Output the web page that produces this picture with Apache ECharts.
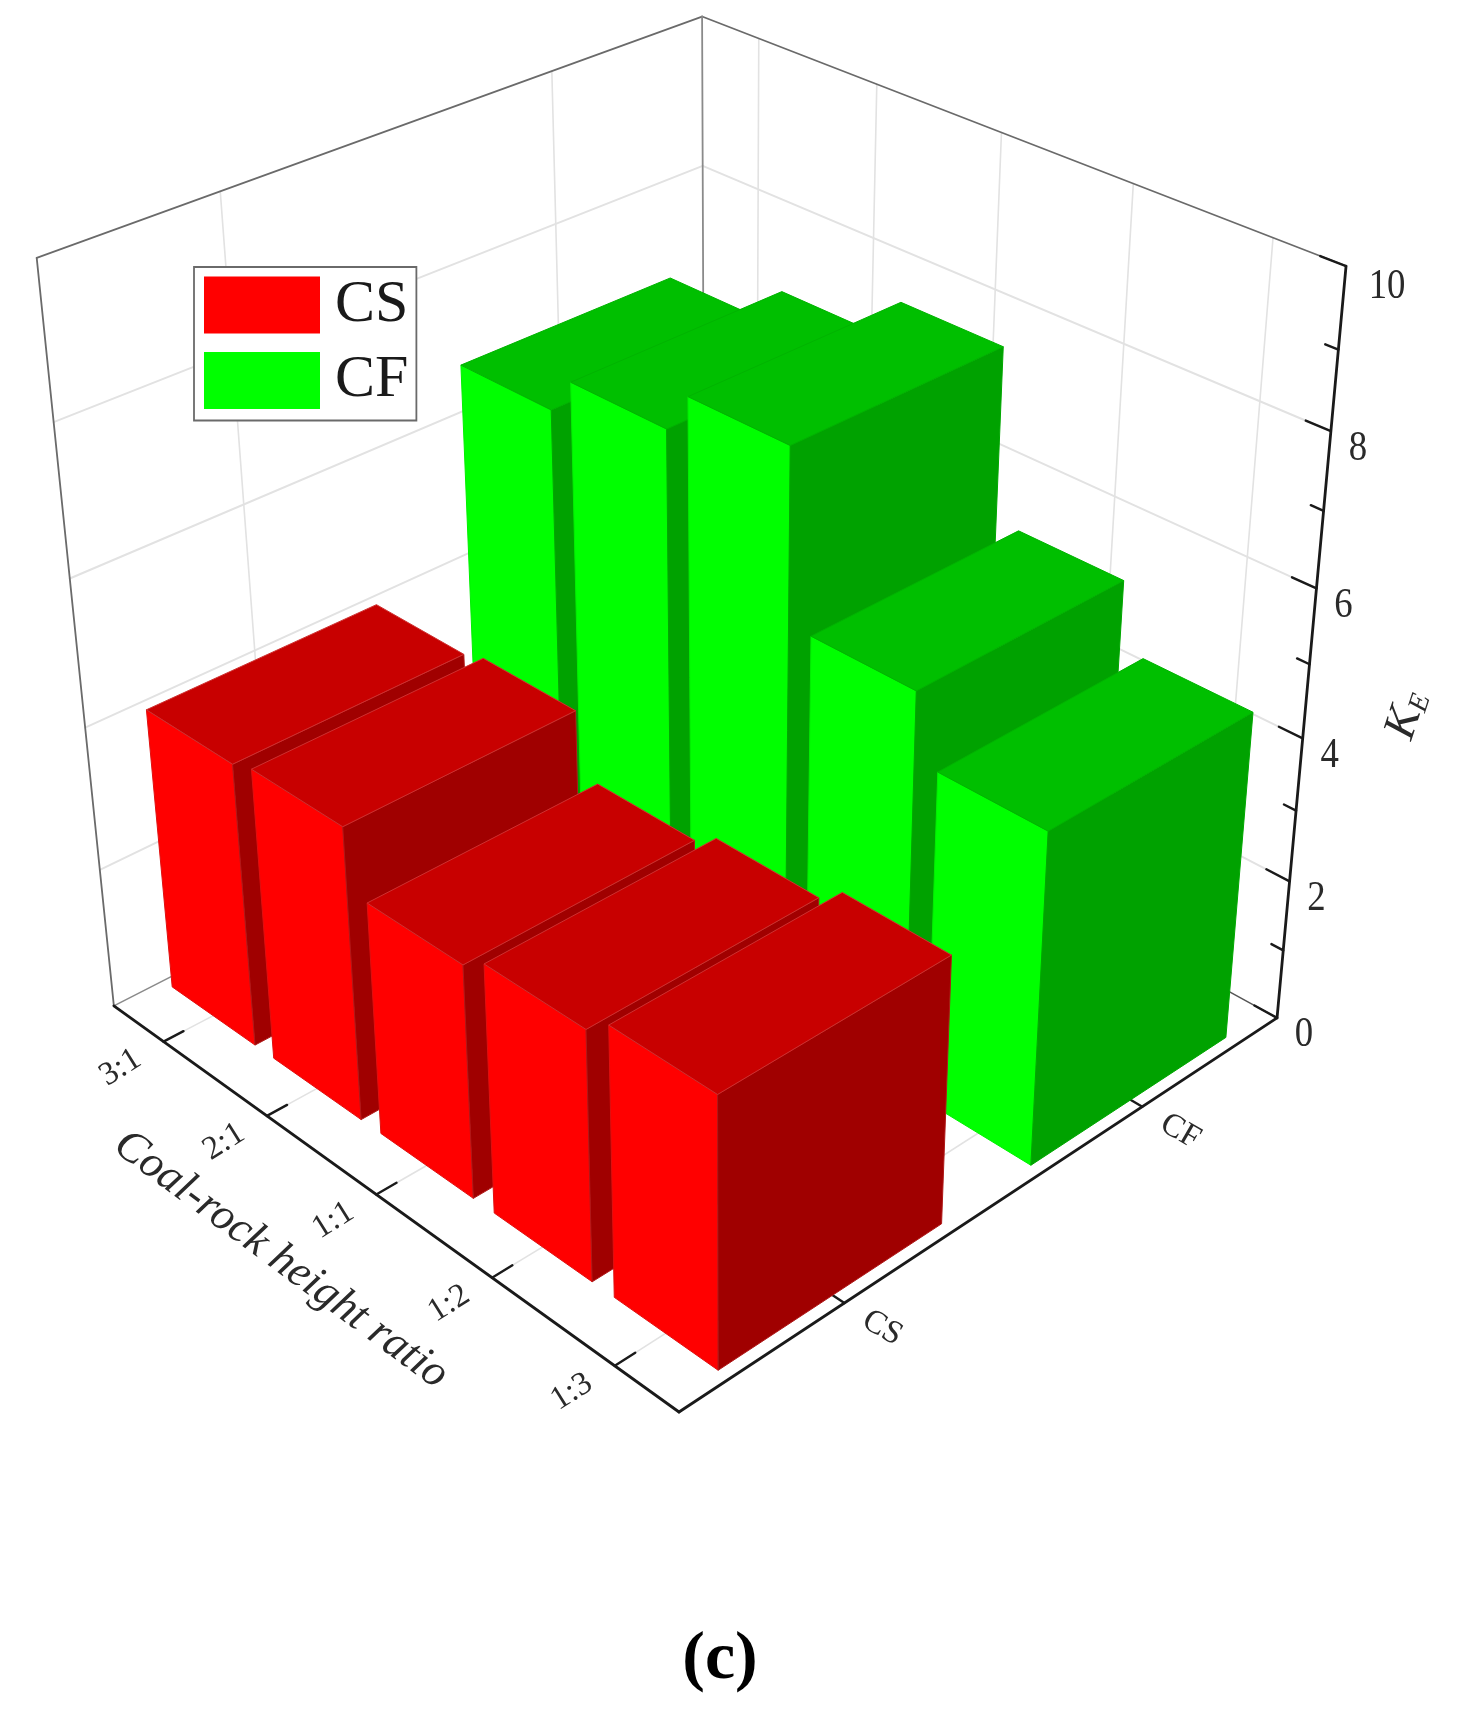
<!DOCTYPE html>
<html>
<head>
<meta charset="utf-8">
<style>html,body{margin:0;padding:0;background:#fff}#chart{width:1476px;height:1709px}</style>
<script src="https://cdn.jsdelivr.net/npm/echarts@6/dist/echarts.min.js"></script>
</head>
<body>
<div id="chart"></div>
<script>
// ---- data ----
const categories = ['3:1', '2:1', '1:1', '1:2', '1:3'];
const seriesNames = ['CS', 'CF'];
const csValues = [4.0, 4.1, 3.25, 3.45, 3.7];
const cfValues = [6.75, 7.25, 7.8, 5.5, 4.6];
const zTicks = [0, 2, 4, 6, 8, 10];
const zMax = 10;
const SERIF = '"Times New Roman", "Liberation Serif", serif';

// ---- perspective camera: vanishing points and front floor corner ----
const F0 = [679, 1412], VL = [-3563, -1636], VR = [5362, -1674], VZ = [730, 6979];
const LA = 0.1537, LV = 0.1464, LW = -0.1284;
// a: 0 at front corner → 1 at the left wall; v: 0 at front → 1 at right wall; w: 0..1 height
function project(a, v, w) {
  const h = 1 + a * LA + v * LV + w * LW;
  return [
    (F0[0] + a * LA * VL[0] + v * LV * VR[0] + w * LW * VZ[0]) / h,
    (F0[1] + a * LA * VL[1] + v * LV * VR[1] + w * LW * VZ[1]) / h
  ];
}
const catCount = categories.length, serCount = seriesNames.length;
const catCentre = i => 1 - (i + 0.5) / catCount;   // 3:1 at far left, 1:3 near the front
const serCentre = j => (j + 0.5) / serCount;
const barHalfA = 0.082, barHalfV = 0.175;

const palettes = {
  CS: { front: '#ff0000', top: '#c80000', side: '#a00000', edgeF: '#e01010', edgeT: '#cf3030', edgeS: '#b01818' },
  CF: { front: '#00ff00', top: '#00bf00', side: '#00a200', edgeF: '#00f000', edgeT: '#00b400', edgeS: '#00a800' }
};

function poly(api, pts, fill, stroke) {
  return {
    type: 'polygon',
    shape: { points: pts.map(p => api.coord(p)) },
    style: { fill: fill, stroke: stroke, lineWidth: 1, lineJoin: 'round' }
  };
}
function seg(api, p, q, color, width) {
  const a = api.coord(p), b = api.coord(q);
  return { type: 'line', shape: { x1: a[0], y1: a[1], x2: b[0], y2: b[1] }, style: { stroke: color, lineWidth: width, lineCap: 'round' } };
}
function label(api, anchor, text, font, rotationDeg, sx, sy) {
  const c = api.coord(anchor);
  return {
    type: 'text', x: c[0], y: c[1], rotation: rotationDeg * Math.PI / 180,
    scaleX: sx || 1, scaleY: sy || 1,
    style: { text: text, font: font, fill: '#2a2a2a', align: 'center', verticalAlign: 'middle' }
  };
}

function renderBar(serIndex) {
  const pal = palettes[seriesNames[serIndex]];
  return function (params, api) {
    const i = api.value(0), val = api.value(1);
    const w = val / zMax;
    const a0 = catCentre(i) - barHalfA, a1 = catCentre(i) + barHalfA;
    const v0 = serCentre(serIndex) - barHalfV, v1 = serCentre(serIndex) + barHalfV;
    const front = [project(a0, v0, 0), project(a1, v0, 0), project(a1, v0, w), project(a0, v0, w)];
    const side = [project(a0, v0, 0), project(a0, v1, 0), project(a0, v1, w), project(a0, v0, w)];
    const top = [project(a0, v0, w), project(a1, v0, w), project(a1, v1, w), project(a0, v1, w)];
    return {
      type: 'group',
      children: [
        poly(api, front, pal.front, pal.edgeF),
        poly(api, side, pal.side, pal.edgeS),
        poly(api, top, pal.top, pal.edgeT)
      ]
    };
  };
}

function renderFrame(params, api) {
  const out = [];
  const GRID = '#e2e2e2';
  // wall gridlines
  zTicks.forEach(t => {
    if (t === 0 || t === zMax) return;
    const w = t / zMax;
    out.push(seg(api, project(1, 0, w), project(1, 1, w), GRID, 2));
    out.push(seg(api, project(0, 1, w), project(1, 1, w), GRID, 2));
  });
  categories.forEach((c, i) => {
    const a = catCentre(i);
    out.push(seg(api, project(a, 1, 0), project(a, 1, 1), GRID, 1.6));
    out.push(seg(api, project(a, 0, 0), project(a, 1, 0), GRID, 1.6));
  });
  seriesNames.forEach((s, j) => {
    const v = serCentre(j);
    out.push(seg(api, project(1, v, 0), project(1, v, 1), GRID, 1.6));
    out.push(seg(api, project(0, v, 0), project(1, v, 0), GRID, 1.6));
  });
  // frame
  out.push(seg(api, project(1, 0, 1), project(1, 1, 1), '#6a6a6a', 1.8));
  out.push(seg(api, project(1, 1, 1), project(0, 1, 1), '#6a6a6a', 1.8));
  out.push(seg(api, project(1, 0, 1), project(1, 0, 0), '#6a6a6a', 1.8));
  out.push(seg(api, project(1, 1, 1), project(1, 1, 0), '#8a8a8a', 1.8));
  out.push(seg(api, project(1, 0, 0), project(1, 1, 0), '#8a8a8a', 1.5));
  out.push(seg(api, project(0, 1, 0), project(1, 1, 0), '#555555', 1.5));
  // black axes
  out.push(seg(api, project(1, 0, 0), project(0, 0, 0), '#1a1a1a', 2.8));
  out.push(seg(api, project(0, 0, 0), project(0, 1, 0), '#1a1a1a', 2.8));
  out.push(seg(api, project(0, 1, 0), project(0, 1, 1), '#1a1a1a', 2.8));
  // value axis ticks and labels
  for (let t = 0; t <= zMax; t++) {
    const major = t % 2 === 0;
    const w = t / zMax;
    out.push(seg(api, project(0, 1, w), project(major ? 0.035 : 0.018, 1, w), '#1a1a1a', 2.4));
  }
  zTicks.forEach(t => {
    const p = project(0, 1, t / zMax);
    const two = String(t).length > 1;
    out.push(label(api, [p[0] + 27 + (two ? 14 : 0), p[1] + 17 + (two ? 4 : 0)], String(t), '40px ' + SERIF, 0, 0.92, 1.08));
  });
  // category ticks and labels
  categories.forEach((c, i) => {
    const a = catCentre(i);
    const p = project(a, 0, 0);
    out.push(seg(api, p, project(a, 0.03, 0), '#1a1a1a', 2.4));
    out.push(label(api, [p[0] - 43, p[1] + 26], c, '33px ' + SERIF, 32));
  });
  seriesNames.forEach((s, j) => {
    const v = serCentre(j);
    const p = project(0, v, 0);
    out.push(seg(api, p, project(0.03, v, 0), '#1a1a1a', 2.4));
    out.push(label(api, [p[0] + 38, p[1] + 25], s, '33px ' + SERIF, -30));
  });
  // axis titles
  out.push(label(api, [281, 1260], 'Coal-rock height ratio', 'italic 45px ' + SERIF, -36.5));
  const kc = api.coord([1407, 715]);
  out.push({
    type: 'text', x: kc[0], y: kc[1], rotation: 72 * Math.PI / 180,
    style: {
      text: '{k|K}{e|E}', fill: '#2a2a2a', align: 'center', verticalAlign: 'middle',
      rich: {
        k: { font: 'italic 46px ' + SERIF, fill: '#2a2a2a' },
        e: { font: 'italic 28px ' + SERIF, fill: '#2a2a2a', verticalAlign: 'bottom', padding: [14, 0, 0, 0] }
      }
    }
  });
  // panel caption
  const cap = api.coord([720, 1660]);
  out.push({
    type: 'text', x: cap[0], y: cap[1],
    style: { text: '(c)', font: 'bold 68px ' + SERIF, fill: '#000', align: 'center', verticalAlign: 'middle' }
  });
  return { type: 'group', children: out };
}

const chart = echarts.init(document.getElementById('chart'));
chart.setOption({
  animation: false,
  backgroundColor: '#ffffff',
  grid: { left: 0, right: 0, top: 0, bottom: 0 },
  xAxis: { type: 'value', min: 0, max: 1476, show: false },
  yAxis: { type: 'value', min: 0, max: 1709, inverse: true, show: false },
  legend: {
    left: 194, top: 267, orient: 'vertical', padding: [8, 8, 10, 10],
    backgroundColor: '#ffffff', borderColor: '#6a6a6a', borderWidth: 1.8,
    itemWidth: 116, itemHeight: 57, itemGap: 15.5, itemStyle: { borderWidth: 0 },
    data: seriesNames.map(n => ({ name: n, icon: 'rect' })),
    textStyle: { fontFamily: SERIF, fontSize: 60, lineHeight: 50, color: '#1a1a1a', padding: [0, 0, 0, 10] },
    selectedMode: false
  },
  series: [
    { type: 'custom', name: 'frame', coordinateSystem: 'cartesian2d', silent: true, clip: false,
      data: [[0, 0]], renderItem: renderFrame, z: 1 },
    { type: 'custom', name: 'CF', coordinateSystem: 'cartesian2d', silent: true, clip: false,
      itemStyle: { color: palettes.CF.front }, encode: { x: 0, y: 1 },
      data: cfValues.map((v, i) => [i, v]), renderItem: renderBar(1), z: 2 },
    { type: 'custom', name: 'CS', coordinateSystem: 'cartesian2d', silent: true, clip: false,
      itemStyle: { color: palettes.CS.front }, encode: { x: 0, y: 1 },
      data: csValues.map((v, i) => [i, v]), renderItem: renderBar(0), z: 3 }
  ]
});
</script>
</body>
</html>
